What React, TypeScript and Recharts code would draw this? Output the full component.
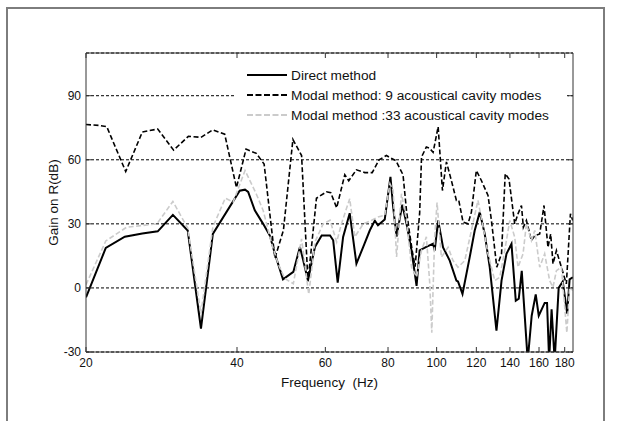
import { LineChart, Line, XAxis, YAxis, CartesianGrid, Legend } from "recharts";

const FONT = "'Liberation Sans', Arial, sans-serif";

const xTicks = [20, 40, 60, 80, 100, 120, 140, 160, 180];
const yTicks = [-30, 0, 30, 60, 90];

// Direct method (solid black)
const directFreq = [20, 21.9, 23.9, 25.9, 27.8, 29.8, 31.9, 33.9, 35.8, 40.5, 41.5, 42.1, 43.4, 45.1, 46.5, 47.6, 49.4, 51.8, 53.4, 54.2, 55.4, 57.2, 59.0, 61.3, 62.2, 63.5, 65.1, 67.1, 69.2, 71.4, 73.6, 75.3, 76.4, 78.8, 80.9, 81.9, 83.2, 85.4, 87.1, 89.1, 91.2, 92.5, 95.4, 98.4, 99.1, 100.7, 103.0, 106.2, 109.5, 110.3, 112.6, 116.4, 119.1, 121.9, 124.7, 127.6, 131.6, 134.7, 137.8, 141.0, 143.8, 145.8, 147.8, 151.9, 154.7, 157.6, 159.8, 164.2, 166.0, 167.6, 169.5, 171.9, 175.1, 178.4, 182.1, 184.1, 186.8];
const directGain = [-4.4, 18.7, 24, 25.5, 26.5, 34.2, 26.9, -19, 25.3, 45.5, 46, 45, 36.3, 30, 24.5, 16, 4, 7.5, 19.2, 13, 3.5, 19.2, 24.6, 24.6, 22.3, 2.5, 23.9, 35, 11.4, 19.2, 27, 31.5, 29.3, 32, 52, 38, 24, 39, 30, 17.6, 1, 17.6, 19.2, 20.7, 17.5, 31.6, 19, 12.8, 3.4, 3, -2.8, 14.4, 26.9, 35.5, 25.3, 9.7, -20, 3.4, 16, 20.6, -6, -5, 8, -34, -13, -3, -13, -7, -7, -34, -10, -34, 0, 3, -12, 4, 5];

// Modal method, 9 cavity modes (dashed black)
const modal9Freq = [20, 21.2, 22.0, 24.0, 25.9, 27.8, 29.9, 32.0, 33.9, 35.8, 37.8, 39.9, 41.7, 43.7, 45.3, 47.6, 49.5, 51.7, 53.8, 55.4, 57.6, 60.3, 61.5, 63.2, 65.6, 66.8, 69.2, 71.9, 74.4, 76.8, 79.4, 83.0, 85.7, 87.1, 88.4, 89.6, 90.6, 92.5, 93.3, 95.4, 96.7, 98.4, 100.7, 102.7, 104.6, 107.0, 109.5, 110.7, 112.9, 115.5, 117.3, 120.0, 122.8, 126.6, 128.6, 131.8, 134.7, 137.0, 139.4, 143.1, 145.3, 147.6, 148.9, 151.0, 154.5, 156.9, 160.5, 163.7, 166.7, 168.8, 170.6, 173.3, 177.3, 181.4, 184.8, 186.8];
const modal9Gain = [76.5, 76.1, 75.5, 54.5, 73, 74.4, 64.5, 71, 70.5, 74, 72, 47, 65, 63, 58, 14, 27, 69.5, 62, 3, 42, 45, 44.6, 37.5, 53, 50.2, 55.3, 54, 54, 60, 62, 59.5, 53, 36, 25, 16, 10, 35, 61.3, 66, 65.5, 63.5, 75.5, 45.6, 59, 50.3, 41, 41, 30.8, 30, 35.5, 55, 50.3, 43.3, 31.6, 9.7, 16, 53.5, 51, 30, 34.7, 38.6, 28.4, 31.6, 22.2, 24.5, 25.3, 38.6, 19, 25.3, 11.3, 17.5, 9.7, 1.9, 34.7, 31.6];

// Modal method, 33 cavity modes (dashed light grey)
const modal33Freq = [20, 21.9, 24.1, 27.7, 29.8, 31.9, 33.9, 35.8, 37.9, 39.3, 41.5, 43.7, 45.1, 46.9, 48.3, 49.8, 51.8, 53.8, 55.6, 57.2, 59.4, 61.3, 63.2, 64.6, 67.1, 68.7, 71.4, 74.2, 76.4, 78.8, 80.7, 81.9, 83.2, 85.1, 87.1, 89.1, 91.2, 93.3, 95.4, 96.9, 97.8, 99.1, 100.2, 102.2, 105.4, 107.8, 110.3, 113.8, 117.3, 120.9, 123.8, 126.6, 130.6, 133.6, 136.7, 139.9, 143.1, 145.3, 148.7, 151.0, 154.5, 156.9, 160.5, 164.2, 168.0, 170.6, 173.3, 177.3, 181.8, 184.1, 186.8];
const modal33Gain = [1.5, 22, 28.4, 30, 40.5, 28, -12, 28.5, 42, 40.2, 55, 44, 36.3, 20.7, 11.4, 4.4, 2, 23, -3, 21.5, 30, 31.7, 21.5, 30, 41.8, 23.9, 30, 31.7, 33.2, 34, 48.8, 45.7, 14.5, 44.1, 31.7, 9.8, 5.1, 17.6, 23.9, 2, -21, 23.9, 40, 14.4, 19, 12.8, 9.7, 12.8, 26.9, 41, 28.4, 16, 3.4, 5, 17.5, 31.6, 23.8, 9.7, 16, 30, 22.2, 26.9, 9.7, 16, 3.4, 0.3, 8.1, 9.7, -21, 0.3, -1.2];

const toRows = (fs: number[], vs: number[]) => fs.map((f, i) => ({ f, v: vs[i] }));

const series = [
  { name: "Direct method", data: toRows(directFreq, directGain), color: "#000", width: 2, dash: undefined },
  { name: "Modal method: 9 acoustical cavity modes", data: toRows(modal9Freq, modal9Gain), color: "#000", width: 1.6, dash: "5 2.5" },
  { name: "Modal method :33 acoustical cavity modes", data: toRows(modal33Freq, modal33Gain), color: "#cbcbcb", width: 1.6, dash: "5 2.5" },
];

function LegendBox() {
  return (
    <div style={{ background: "#fff", padding: "3px 0 0 13px", boxSizing: "border-box", width: 333, height: 62, fontFamily: FONT }}>
      {series.map((s) => (
        <div key={s.name} style={{ display: "flex", alignItems: "center", height: 20 }}>
          <svg width={40} height={4} style={{ marginRight: 4, flex: "none" }}>
            <line x1={0} y1={2} x2={40} y2={2} stroke={s.color} strokeWidth={2} strokeDasharray={s.dash ? "6 2.5" : undefined} />
          </svg>
          <span style={{ fontSize: 13.7, color: "#111", whiteSpace: "nowrap" }}>{s.name}</span>
        </div>
      ))}
    </div>
  );
}

const tickStyle = { fill: "#111", fontSize: 12, fontFamily: FONT };

export default function App() {
  return (
    <div style={{ position: "relative", width: 602, height: 405 }}>
      <LineChart width={602} height={405} margin={{ top: 44, right: 36, bottom: 31, left: 0 }}>
        <CartesianGrid vertical={false} stroke="#000" strokeDasharray="3 2" yAxisId={0} />
        <XAxis
          xAxisId={0}
          type="number"
          dataKey="f"
          scale="log"
          domain={[20, 187]}
          ticks={xTicks}
          interval={0}
          allowDataOverflow
          height={30}
          stroke="#333"
          tickSize={-5}
          tickMargin={11}
          tick={tickStyle}
          label={{
            content: (p: any) => {
              const vb = p.viewBox || {};
              return (
                <text x={vb.x + vb.width / 2} y={379} textAnchor="middle" fontSize={13.5} fontFamily={FONT} fill="#111">
                  Frequency {"\u00a0"}(Hz)
                </text>
              );
            },
          }}
        />
        <XAxis
          xAxisId="top"
          orientation="top"
          type="number"
          dataKey="f"
          scale="log"
          domain={[20, 187]}
          ticks={xTicks}
          interval={0}
          allowDataOverflow
          height={1}
          stroke="#333"
          tickSize={-5}
          tickFormatter={() => ""}
        />
        <YAxis
          yAxisId={0}
          type="number"
          domain={[-30, 110]}
          ticks={yTicks}
          interval={0}
          allowDataOverflow
          width={78}
          stroke="#333"
          tickSize={-5}
          tickMargin={10}
          tick={tickStyle}
          label={{
            content: (p: any) => {
              const vb = p.viewBox || {};
              const cy = vb.y + vb.height / 2;
              return (
                <text x={49.5} y={cy} transform={`rotate(-90 49.5 ${cy})`} textAnchor="middle" fontSize={13.5} fontFamily={FONT} fill="#111">
                  Gain on R(dB)
                </text>
              );
            },
          }}
        />
        <YAxis
          yAxisId="right"
          orientation="right"
          type="number"
          domain={[-30, 110]}
          ticks={yTicks}
          interval={0}
          allowDataOverflow
          width={1}
          stroke="#333"
          tickSize={-5}
          tickFormatter={() => ""}
        />
        <Legend
          layout="vertical"
          align="center"
          verticalAlign="middle"
          content={() => <LegendBox />}
          wrapperStyle={{ left: 226, top: 54, width: 333, height: 62 }}
        />
        {series.map((s) => (
          <Line
            key={s.name}
            name={s.name}
            data={s.data}
            dataKey="v"
            xAxisId={0}
            yAxisId={0}
            type="linear"
            stroke={s.color}
            strokeWidth={s.width}
            strokeDasharray={s.dash}
            dot={false}
            activeDot={false}
            isAnimationActive={false}
          />
        ))}
      </LineChart>
      <div
        style={{
          position: "fixed",
          zIndex: 5,
          pointerEvents: "none",
          left: 6,
          top: 7,
          width: 599,
          height: 414,
          borderTop: "2px solid #7d7d7d",
          borderLeft: "2px solid #7d7d7d",
          borderRight: "2px solid #7d7d7d",
          boxSizing: "border-box",
        }}
      />
    </div>
  );
}
